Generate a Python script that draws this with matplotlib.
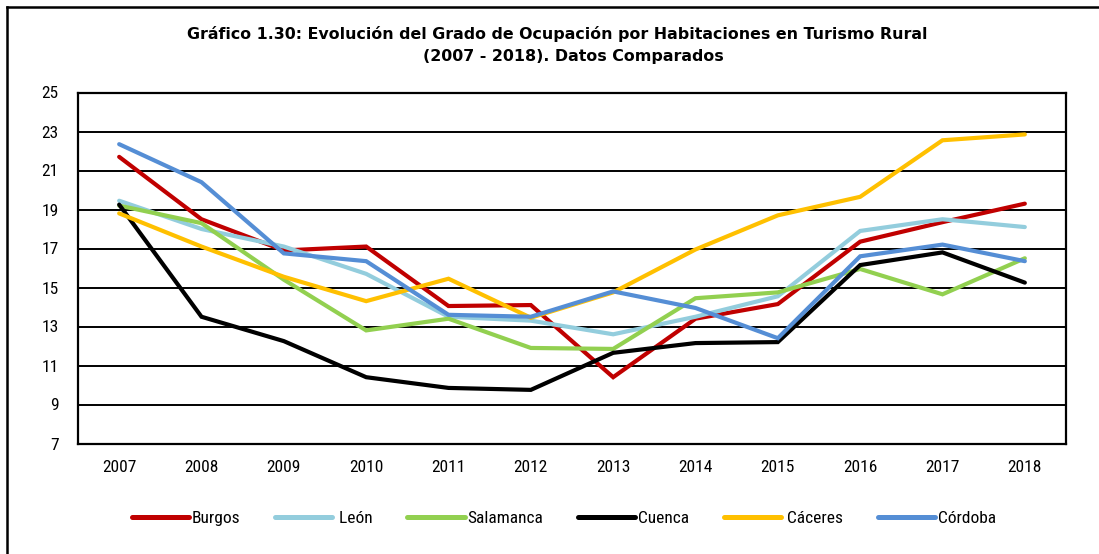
import matplotlib
matplotlib.use("Agg")
import matplotlib.pyplot as plt
from matplotlib import font_manager as fm
from matplotlib.lines import Line2D

years = ["2007", "2008", "2009", "2010", "2011", "2012", "2013", "2014", "2015", "2016", "2017", "2018"]
burgos = [21.7, 18.5, 16.9, 17.1, 14.05, 14.1, 10.4, 13.4, 14.15, 17.35, 18.35, 19.3]
leon = [19.45, 18.0, 17.1, 15.7, 13.5, 13.3, 12.6, 13.5, 14.55, 17.9, 18.5, 18.1]
salamanca = [19.2, 18.3, 15.4, 12.8, 13.4, 11.9, 11.85, 14.45, 14.75, 15.95, 14.65, 16.5]
cuenca = [19.25, 13.5, 12.25, 10.4, 9.85, 9.75, 11.65, 12.15, 12.2, 16.15, 16.8, 15.25]
caceres = [18.8, 17.1, 15.55, 14.3, 15.45, 13.45, 14.75, 16.95, 18.7, 19.65, 22.55, 22.85]
cordoba = [22.35, 20.4, 16.75, 16.35, 13.6, 13.5, 14.8, 13.95, 12.4, 16.6, 17.2, 16.35]

series = [
    ("Burgos", burgos, "#C00000"),
    (" León", leon, "#93CDDD"),
    ("Salamanca", salamanca, "#92D050"),
    ("Cuenca", cuenca, "#000000"),
    (" Cáceres", caceres, "#FFC000"),
    ("Córdoba", cordoba, "#558ED5"),
]

names = {f.name for f in fm.fontManager.ttflist}
narrow = None
for cand in ["Liberation Sans Narrow", "DejaVu Sans Condensed", "Roboto Condensed", "Open Sans Condensed"]:
    if cand in names:
        narrow = cand
        break
if narrow is None:
    narrow = "Liberation Sans"

fig = plt.figure(figsize=(10.99, 5.54), dpi=100)
W, H = 1099, 554
ax = fig.add_axes([78 / W, 1 - 443.5 / H, (1066 - 78) / W, (443.5 - 92.5) / H])

x = list(range(len(years)))
for name, vals, col in series:
    ax.plot(x, vals, color=col, lw=3.0, solid_capstyle="round", solid_joinstyle="miter", zorder=3)

ax.set_xlim(-0.5, len(years) - 0.5)
ax.set_ylim(7, 25)
ax.set_yticks(range(7, 26, 2))
ax.set_xticks(x)
ax.set_xticklabels(years)
ax.yaxis.grid(True, color="black", lw=1.4, zorder=1)
ax.set_axisbelow(True)
for s in ax.spines.values():
    s.set_linewidth(1.6)
    s.set_color("black")
ax.tick_params(length=0, pad=12, labelsize=12.5)
for lab in ax.get_xticklabels() + ax.get_yticklabels():
    lab.set_fontfamily(narrow)
ax.tick_params(axis="y", pad=14)

fig.text(557 / W, 1 - 34 / H, "Gráfico 1.30: Evolución del Grado de Ocupación por Habitaciones en Turismo Rural",
         ha="center", va="center", fontsize=11.4, fontweight="bold", family="DejaVu Sans")
fig.text(573 / W, 1 - 57 / H, "(2007 - 2018). Datos Comparados",
         ha="center", va="center", fontsize=11.4, fontweight="bold", family="DejaVu Sans")

handles = [Line2D([0], [0], color=c, lw=3.6, solid_capstyle="round") for _, _, c in series]
leg = fig.legend(handles, [n for n, _, _ in series], loc="center", bbox_to_anchor=(564 / W, 1 - 518 / H),
                 ncol=6, frameon=False, handlelength=3.3, handletextpad=0.15, columnspacing=2.0,
                 prop={"family": narrow, "size": 12.5})

# outer border
fig.add_artist(Line2D([7 / W, 7 / W], [0, 1 - 7 / H], color="black", lw=1.8, transform=fig.transFigure))
fig.add_artist(Line2D([7 / W, 1], [1 - 7 / H, 1 - 7 / H], color="black", lw=1.8, transform=fig.transFigure))

fig.savefig("out.png", dpi=100)
